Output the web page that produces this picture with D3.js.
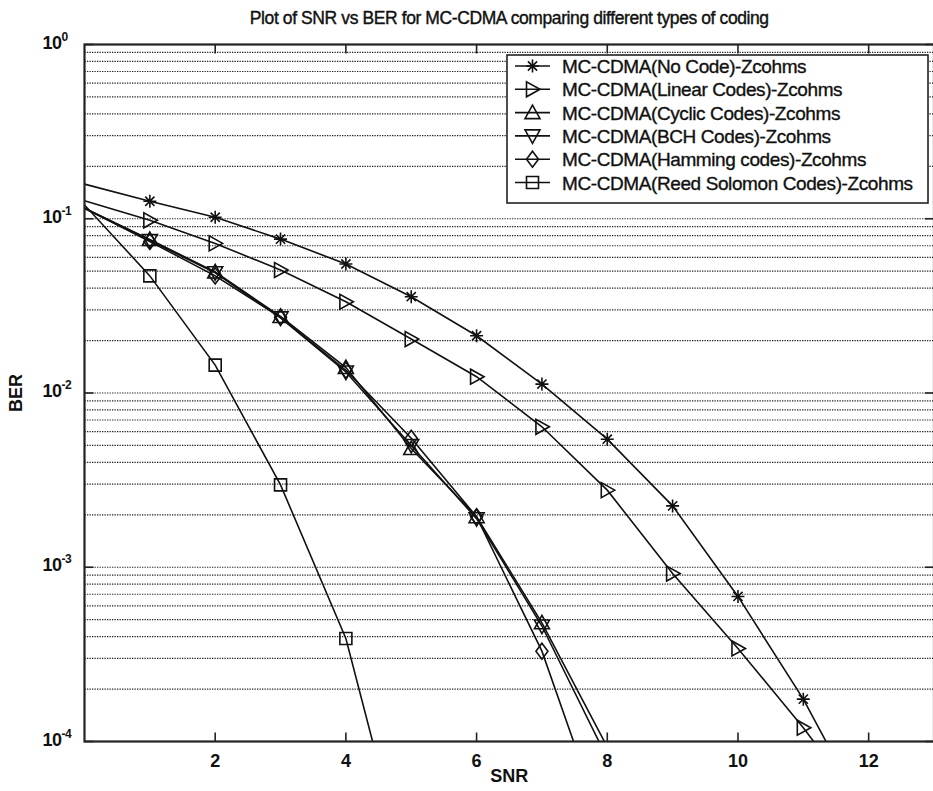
<!DOCTYPE html>
<html>
<head>
<meta charset="utf-8">
<script src="https://cdn.jsdelivr.net/npm/d3@7"></script>
<style>
  body { margin: 0; background: #fff; }
  text { font-family: "Liberation Sans", Arial, sans-serif; fill: #111; }
</style>
</head>
<body>
<div id="graph_plot"></div>
<script>
// SNR points (x) and BER per coding scheme
const snr = [0, 1, 2, 3, 4, 5, 6, 7, 8, 9, 10, 11, 12];
const berNoCode = [0.158, 0.126, 0.102, 0.0764, 0.055, 0.0357, 0.0213, 0.01125, 0.00543, 0.00225, 6.8e-4, 1.75e-4, 3.5e-5];
const berLinear = [0.127, 0.098, 0.0722, 0.0508, 0.0334, 0.0204, 0.0124, 0.0064, 0.00277, 9.2e-4, 3.42e-4, 1.2e-4, 3.8e-5];
const berCyclic = [0.115, 0.076, 0.0495, 0.0275, 0.0140, 0.0048, 0.00195, 4.8e-4, 9.3e-5];
const berBCH = [0.115, 0.075, 0.049, 0.027, 0.0132, 0.0050, 0.0019, 4.6e-4, 8.0e-5];
const berHamming = [0.115, 0.074, 0.047, 0.0272, 0.0135, 0.0055, 0.00195, 3.3e-4, 2.8e-5];
const berReedSolomon = [0.12, 0.047, 0.01445, 0.00297, 3.9e-4, 1.4e-5];

const seriesNames = [
  "MC-CDMA(No Code)-Zcohms",
  "MC-CDMA(Linear Codes)-Zcohms",
  "MC-CDMA(Cyclic Codes)-Zcohms",
  "MC-CDMA(BCH Codes)-Zcohms",
  "MC-CDMA(Hamming codes)-Zcohms",
  "MC-CDMA(Reed Solomon Codes)-Zcohms"
];
const seriesMarkers = ["asterisk", "right", "up", "down", "diamond", "square"];
const xTicks = [2, 4, 6, 8, 10, 12];
const yDecades = [1e-4, 1e-3, 1e-2, 1e-1, 1];

const titleText = "Plot of SNR vs BER for MC-CDMA comparing different types of coding";

var margin = { top: 44.5, right: -1, bottom: 50, left: 84.5 },
    W = 933, H = 791,
    width = W - margin.left - margin.right,
    height = 741.5 - margin.top;

var svg = d3.select("#graph_plot").append("svg")
    .attr("width", W)
    .attr("height", H);

var g = svg.append("g")
    .attr("transform", `translate(${margin.left},${margin.top})`);

var x = d3.scaleLinear().domain([0, 13]).range([0, width]);
var y = d3.scaleLog().domain([1e-4, 1]).range([height, 0]);

// dotted horizontal grid at every log step
var gridVals = [];
yDecades.slice(0, -1).forEach(d => {
  for (var m = 1; m < 10; m++) if (m > 1 || d > 1e-4) gridVals.push(d * m);
});
g.append("g").selectAll("line").data(gridVals).enter().append("line")
  .attr("x1", 0).attr("x2", width)
  .attr("y1", d => y(d)).attr("y2", d => y(d))
  .attr("stroke", "#222").attr("stroke-width", 1.2)
  .attr("stroke-dasharray", "1.3,1.2");

g.append("clipPath").attr("id", "clip")
  .append("rect").attr("width", width).attr("height", height);

// marker shapes
function markerPath(type) {
  var p = d3.path();
  if (type === "asterisk") {
    var r = 6.5;
    for (var i = 0; i < 4; i++) {
      var a = i * Math.PI / 4;
      p.moveTo(-r * Math.cos(a), -r * Math.sin(a));
      p.lineTo(r * Math.cos(a), r * Math.sin(a));
    }
  } else if (type === "square") {
    p.rect(-6, -6, 12, 12);
  } else if (type === "diamond") {
    p.moveTo(0, -8); p.lineTo(6, 0); p.lineTo(0, 8); p.lineTo(-6, 0); p.closePath();
  } else {
    var s = 7.5, pts;
    if (type === "up") pts = [[0, -s], [s, s * 0.8], [-s, s * 0.8]];
    if (type === "down") pts = [[0, s], [s, -s * 0.8], [-s, -s * 0.8]];
    if (type === "right") pts = [[s, 0], [-s * 0.8, s], [-s * 0.8, -s]];
    p.moveTo(pts[0][0], pts[0][1]); p.lineTo(pts[1][0], pts[1][1]); p.lineTo(pts[2][0], pts[2][1]); p.closePath();
  }
  return p.toString();
}

var allSeries = [berNoCode, berLinear, berCyclic, berBCH, berHamming, berReedSolomon].map((vals, i) => ({
  name: seriesNames[i],
  marker: seriesMarkers[i],
  points: vals.map((v, j) => ({ snr: snr[j], ber: v }))
}));

var valueLine = d3.line()
  .x(d => x(d.snr))
  .y(d => y(d.ber));

var lines = g.append("g").attr("clip-path", "url(#clip)");
allSeries.forEach(s => {
  lines.append("path")
    .datum(s.points)
    .attr("fill", "none")
    .attr("stroke", "#111")
    .attr("stroke-width", 1.6)
    .attr("d", valueLine);
});

allSeries.forEach(s => {
  g.append("g").selectAll("path")
    .data(s.points.filter(d => d.snr >= 1 && d.ber >= 1e-4))
    .enter().append("path")
    .attr("transform", d => `translate(${x(d.snr)},${y(d.ber)})`)
    .attr("d", markerPath(s.marker))
    .attr("fill", "none")
    .attr("stroke", "#111")
    .attr("stroke-width", 1.6);
});

// frame and inward ticks
g.append("rect").attr("width", width).attr("height", height)
  .attr("fill", "none").attr("stroke", "#222").attr("stroke-width", 2.2);

var tk = 9;
xTicks.forEach(t => {
  g.append("line").attr("x1", x(t)).attr("x2", x(t)).attr("y1", height).attr("y2", height - tk)
    .attr("stroke", "#222").attr("stroke-width", 1.6);
  g.append("line").attr("x1", x(t)).attr("x2", x(t)).attr("y1", 0).attr("y2", tk)
    .attr("stroke", "#222").attr("stroke-width", 1.6);
  g.append("text").attr("x", x(t)).attr("y", height + 25)
    .attr("text-anchor", "middle").attr("font-size", 18).attr("font-weight", "bold")
    .text(t);
});

yDecades.forEach(d => {
  g.append("line").attr("x1", 0).attr("x2", tk).attr("y1", y(d)).attr("y2", y(d))
    .attr("stroke", "#222").attr("stroke-width", 1.6);
  g.append("line").attr("x1", width).attr("x2", width - tk).attr("y1", y(d)).attr("y2", y(d))
    .attr("stroke", "#222").attr("stroke-width", 1.6);
  var lab = g.append("text").attr("x", -42).attr("y", y(d) + 4)
    .attr("font-size", 18).attr("font-weight", "bold").attr("letter-spacing", -0.5);
  lab.append("tspan").text("10");
  lab.append("tspan").attr("dy", -8).attr("font-size", 12).text(Math.round(Math.log10(d)));
});

// legend
var lg = g.append("g").attr("transform", `translate(${507 - margin.left},${55 - margin.top})`);
lg.append("rect").attr("width", 421).attr("height", 148)
  .attr("fill", "#fff").attr("stroke", "#222").attr("stroke-width", 1.6);
allSeries.forEach((s, i) => {
  var row = lg.append("g").attr("transform", `translate(0,${11 + i * 23.3})`);
  row.append("line").attr("x1", 8).attr("x2", 43).attr("stroke", "#111").attr("stroke-width", 1.6);
  row.append("path").attr("transform", "translate(25.5,0)").attr("d", markerPath(s.marker))
    .attr("fill", "none").attr("stroke", "#111").attr("stroke-width", 1.6);
  row.append("text").attr("x", 55).attr("y", 7).attr("font-size", 19)
    .attr("letter-spacing", -0.4).attr("stroke", "#111").attr("stroke-width", 0.35)
    .text(s.name);
});

// titles
svg.append("text").attr("x", margin.left + x(6.5)).attr("y", 24)
  .attr("text-anchor", "middle").attr("font-size", 17.5).attr("letter-spacing", -0.4)
  .attr("stroke", "#111").attr("stroke-width", 0.4).text(titleText);
svg.append("text").attr("x", margin.left + x(6.5)).attr("y", 782)
  .attr("text-anchor", "middle").attr("font-size", 18).attr("font-weight", "bold").text("SNR");
svg.append("text").attr("transform", `translate(22,${margin.top + height / 2}) rotate(-90)`)
  .attr("text-anchor", "middle").attr("font-size", 18).attr("font-weight", "bold").text("BER");
</script>
</body>
</html>
